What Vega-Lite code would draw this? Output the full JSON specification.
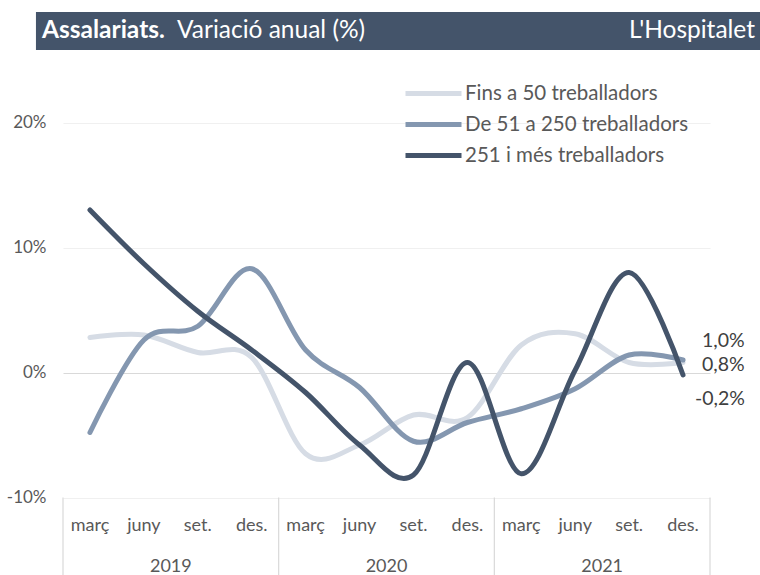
{
  "$schema": "https://vega.github.io/schema/vega-lite/v6.json",
  "padding": {"left": 6, "top": 12, "right": 0, "bottom": 0},
  "background": "white",
  "config": {"view": {"stroke": null}, "font": "Lato"},
  "spacing": 10,
  "vconcat": [
    {
      "width": 697,
      "height": 38,
      "data": {"values": [{"k": 0}]},
      "layer": [
        {
          "mark": {"type": "rect", "color": "#44546A", "clip": false},
          "encoding": {
            "x": {"datum": -0.0388, "type": "quantitative", "scale": {"domain": [0, 1], "nice": false, "zero": false}, "axis": null},
            "x2": {"datum": 1},
            "y": {"datum": 0, "type": "quantitative", "scale": {"domain": [0, 1], "nice": false}, "axis": null},
            "y2": {"datum": 1}
          }
        },
        {
          "mark": {"type": "text", "text": "Assalariats.", "align": "left", "baseline": "middle", "dx": -21, "fontWeight": "bold", "fontSize": 24.5, "font": "Lato", "color": "white"},
          "encoding": {
            "x": {"datum": 0, "type": "quantitative"},
            "y": {"datum": 0.5, "type": "quantitative"}
          }
        },
        {
          "mark": {"type": "text", "text": "Variació anual (%)", "align": "left", "baseline": "middle", "dx": 114, "fontSize": 24.5, "font": "Lato", "color": "white"},
          "encoding": {
            "x": {"datum": 0, "type": "quantitative"},
            "y": {"datum": 0.5, "type": "quantitative"}
          }
        },
        {
          "mark": {"type": "text", "text": "L'Hospitalet", "align": "right", "baseline": "middle", "dx": -5, "fontSize": 24.5, "font": "Lato", "color": "white"},
          "encoding": {
            "x": {"datum": 1, "type": "quantitative"},
            "y": {"datum": 0.5, "type": "quantitative"}
          }
        }
      ]
    },
    {
      "width": 647,
      "height": 437.5,
      "data": {"values": [
        {"s": "Fins a 50 treballadors", "i": 0, "v": 2.8},
        {"s": "Fins a 50 treballadors", "i": 1, "v": 3.0},
        {"s": "Fins a 50 treballadors", "i": 2, "v": 1.6},
        {"s": "Fins a 50 treballadors", "i": 3, "v": 1.2},
        {"s": "Fins a 50 treballadors", "i": 4, "v": -6.5},
        {"s": "Fins a 50 treballadors", "i": 5, "v": -5.8},
        {"s": "Fins a 50 treballadors", "i": 6, "v": -3.4},
        {"s": "Fins a 50 treballadors", "i": 7, "v": -3.6},
        {"s": "Fins a 50 treballadors", "i": 8, "v": 2.2},
        {"s": "Fins a 50 treballadors", "i": 9, "v": 3.1},
        {"s": "Fins a 50 treballadors", "i": 10, "v": 0.8},
        {"s": "Fins a 50 treballadors", "i": 11, "v": 0.8},
        {"s": "De 51 a 250 treballadors", "i": 0, "v": -4.8},
        {"s": "De 51 a 250 treballadors", "i": 1, "v": 2.6},
        {"s": "De 51 a 250 treballadors", "i": 2, "v": 3.7},
        {"s": "De 51 a 250 treballadors", "i": 3, "v": 8.3},
        {"s": "De 51 a 250 treballadors", "i": 4, "v": 1.8},
        {"s": "De 51 a 250 treballadors", "i": 5, "v": -1.2},
        {"s": "De 51 a 250 treballadors", "i": 6, "v": -5.5},
        {"s": "De 51 a 250 treballadors", "i": 7, "v": -4.0},
        {"s": "De 51 a 250 treballadors", "i": 8, "v": -2.9},
        {"s": "De 51 a 250 treballadors", "i": 9, "v": -1.3},
        {"s": "De 51 a 250 treballadors", "i": 10, "v": 1.4},
        {"s": "De 51 a 250 treballadors", "i": 11, "v": 1.0},
        {"s": "251 i més treballadors", "i": 0, "v": 13.0},
        {"s": "251 i més treballadors", "i": 1, "v": 8.7},
        {"s": "251 i més treballadors", "i": 2, "v": 4.9},
        {"s": "251 i més treballadors", "i": 3, "v": 1.8},
        {"s": "251 i més treballadors", "i": 4, "v": -1.6},
        {"s": "251 i més treballadors", "i": 5, "v": -5.8},
        {"s": "251 i més treballadors", "i": 6, "v": -8.2},
        {"s": "251 i més treballadors", "i": 7, "v": 0.8},
        {"s": "251 i més treballadors", "i": 8, "v": -8.1},
        {"s": "251 i més treballadors", "i": 9, "v": 0.2},
        {"s": "251 i més treballadors", "i": 10, "v": 8.0},
        {"s": "251 i més treballadors", "i": 11, "v": -0.2}
      ]},
      "layer": [
        {
          "mark": {"type": "line", "interpolate": "cardinal", "strokeWidth": 5, "strokeCap": "round", "strokeJoin": "round"},
          "encoding": {
            "x": {"field": "i", "type": "ordinal", "bandPosition": 0.5,
              "scale": {"type": "band", "paddingInner": 0, "paddingOuter": 0},
              "axis": {"title": null, "labelExpr": "['març','juny','set.','des.'][datum.value % 4]", "labelAngle": 0, "labelFontSize": 18, "labelColor": "#595959", "ticks": false, "domain": false, "grid": false, "labelPadding": 19}},
            "y": {"field": "v", "type": "quantitative",
              "scale": {"domain": [-10, 25], "nice": false},
              "axis": {"title": null, "values": [-10, 0, 10, 20], "labelExpr": "datum.value + '%'", "labelFontSize": 17, "labelColor": "#595959", "labelPadding": 17, "ticks": false, "domain": false, "gridColor": {"condition": {"test": "datum.value === 0", "value": "#D9D9D9"}, "value": "#F0F0F0"}, "gridWidth": 1.2, "minExtent": 54, "maxExtent": 54}},
            "color": {"field": "s", "type": "nominal",
              "scale": {"domain": ["Fins a 50 treballadors", "De 51 a 250 treballadors", "251 i més treballadors"], "range": ["#D6DCE5", "#8497B0", "#44546A"]},
              "legend": {"title": null, "orient": "none", "legendX": 354, "legendY": 65, "direction": "vertical", "symbolType": "M-2,0H2", "symbolSize": 784, "symbolStrokeWidth": 5, "labelFontSize": 20.5, "labelColor": "#595959", "rowPadding": 4, "labelOffset": 15, "labelLimit": 400}}
          }
        },
        {
          "data": {"values": [{"i": 0}, {"i": 4}, {"i": 8}]},
          "mark": {"type": "rule", "color": "#D9D9D9", "strokeWidth": 1.2},
          "encoding": {
            "x": {"field": "i", "type": "ordinal", "bandPosition": 0},
            "y": {"datum": -10, "type": "quantitative"},
            "y2": {"datum": -16.2}
          }
        },
        {
          "data": {"values": [{"i": 11}]},
          "mark": {"type": "rule", "color": "#D9D9D9", "strokeWidth": 1.2},
          "encoding": {
            "x": {"field": "i", "type": "ordinal", "bandPosition": 1},
            "y": {"datum": -10, "type": "quantitative"},
            "y2": {"datum": -16.2}
          }
        },
        {
          "data": {"values": [{"i": 1, "yr": "2019"}, {"i": 5, "yr": "2020"}, {"i": 9, "yr": "2021"}]},
          "mark": {"type": "text", "fontSize": 18, "color": "#595959", "baseline": "middle", "align": "center"},
          "encoding": {
            "x": {"field": "i", "type": "ordinal", "bandPosition": 1},
            "y": {"datum": -15.55, "type": "quantitative"},
            "text": {"field": "yr"}
          }
        },
        {
          "transform": [{"filter": "datum.i == 11 && datum.s == 'De 51 a 250 treballadors'"}, {"calculate": "replace(replace(format(datum.v, '.1f'), '.', ','), '−', '-') + '%'", "as": "lab"}],
          "mark": {"type": "text", "fontSize": 19.5, "color": "#404040", "align": "left", "baseline": "middle", "dx": 19, "dy": -19},
          "encoding": {
            "x": {"field": "i", "type": "ordinal", "bandPosition": 0.5},
            "y": {"field": "v", "type": "quantitative"},
            "text": {"field": "lab"}
          }
        },
        {
          "transform": [{"filter": "datum.i == 11 && datum.s == 'Fins a 50 treballadors'"}, {"calculate": "replace(replace(format(datum.v, '.1f'), '.', ','), '−', '-') + '%'", "as": "lab"}],
          "mark": {"type": "text", "fontSize": 19.5, "color": "#404040", "align": "left", "baseline": "middle", "dx": 19, "dy": 2},
          "encoding": {
            "x": {"field": "i", "type": "ordinal", "bandPosition": 0.5},
            "y": {"field": "v", "type": "quantitative"},
            "text": {"field": "lab"}
          }
        },
        {
          "transform": [{"filter": "datum.i == 11 && datum.s == '251 i més treballadors'"}, {"calculate": "replace(replace(format(datum.v, '.1f'), '.', ','), '−', '-') + '%'", "as": "lab"}],
          "mark": {"type": "text", "fontSize": 19.5, "color": "#404040", "align": "left", "baseline": "middle", "dx": 12, "dy": 24},
          "encoding": {
            "x": {"field": "i", "type": "ordinal", "bandPosition": 0.5},
            "y": {"field": "v", "type": "quantitative"},
            "text": {"field": "lab"}
          }
        }
      ]
    }
  ]
}
